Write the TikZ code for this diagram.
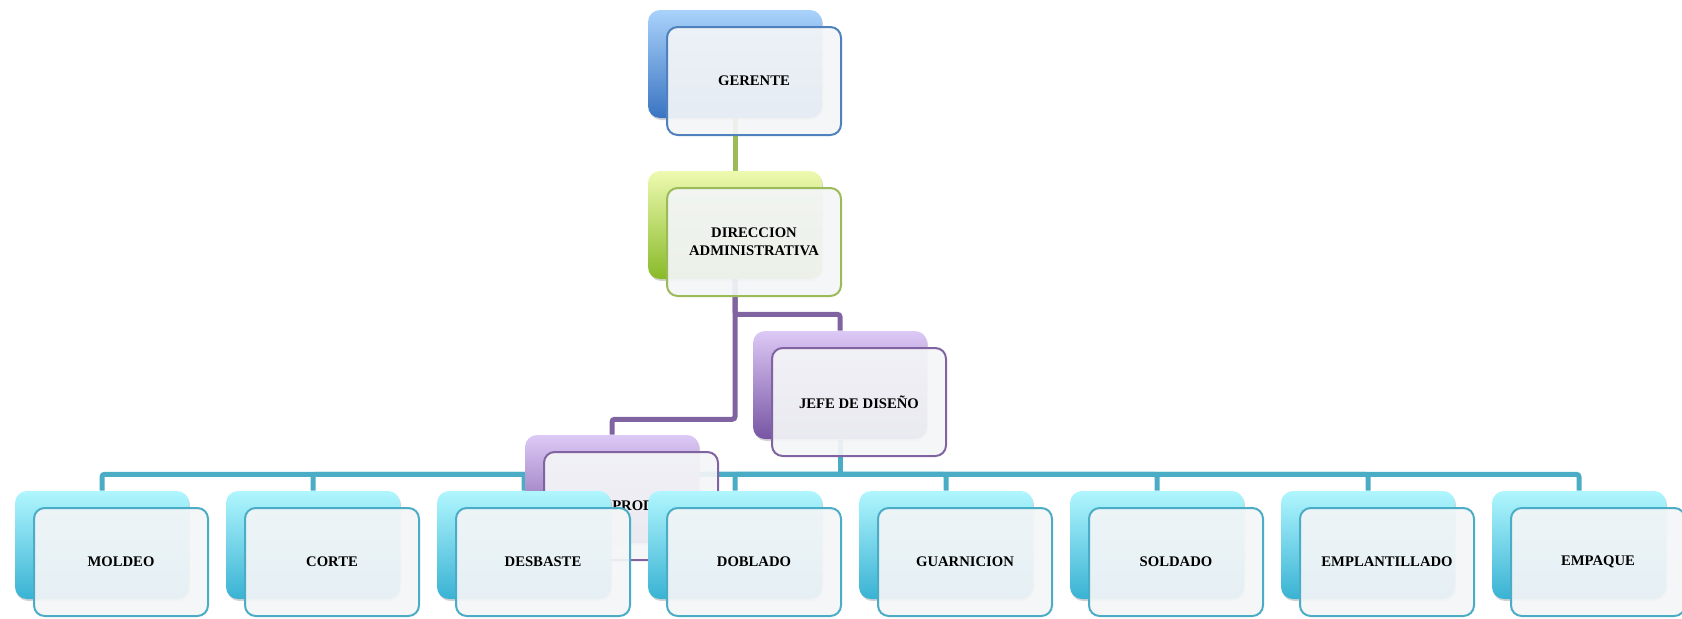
\documentclass[tikz,border=0pt]{standalone}
\usepackage{fontspec}
\setmainfont{Liberation Serif}
\usepackage{tikz}
\newcommand{\boxwidth}{130.5pt}
\newcommand{\boxheight}{81pt}
\newcommand{\boxdx}{14.25pt}
\newcommand{\boxdy}{-12.75pt}
\usetikzlibrary{positioning,shadows}
\pgfdeclarelayer{bg}
\pgfsetlayers{bg,main}
\definecolor{bluetop}{HTML}{A9D2FB}
\definecolor{bluebot}{HTML}{3A74C2}
\definecolor{blueline}{HTML}{4F81BD}
\definecolor{greentop}{HTML}{EEFAB0}
\definecolor{greenbot}{HTML}{88BA28}
\definecolor{greenline}{HTML}{9BBB59}
\definecolor{purptop}{HTML}{DDC9F6}
\definecolor{purpbot}{HTML}{7755A3}
\definecolor{purpline}{HTML}{8064A2}
\definecolor{cyantop}{HTML}{B0F6FE}
\definecolor{cyanbot}{HTML}{39B2D3}
\definecolor{cyanline}{HTML}{4BACC6}
\definecolor{frontfill}{HTML}{F3F5F7}
\tikzset{
  font=\fontsize{11}{13.3}\selectfont\bfseries,
  back/.style={shape=rectangle,rounded corners=9pt,minimum width=\boxwidth,minimum height=\boxheight,inner sep=0,
    drop shadow={shadow xshift=0.8pt,shadow yshift=-1.5pt,opacity=0.35}},
  front/.style={draw,fill=frontfill,fill opacity=0.93,text opacity=1,line width=1.5pt,shape=rectangle,rounded corners=8pt,
    minimum width=\boxwidth,minimum height=\boxheight,inner sep=1mm,align=center,xshift=\boxdx,yshift=\boxdy},
  blueback/.style={back,top color=bluetop,bottom color=bluebot},
  bluefront/.style={front,draw=blueline},
  greenback/.style={back,top color=greentop,bottom color=greenbot},
  greenfront/.style={front,draw=greenline},
  purpback/.style={back,top color=purptop,bottom color=purpbot},
  purpfront/.style={front,draw=purpline},
  cyanback/.style={back,top color=cyantop,bottom color=cyanbot},
  cyanfront/.style={front,draw=cyanline},
  line/.style={draw,line width=3.75pt,rounded corners=2pt}
}

\begin{document}
\begin{tikzpicture}[x=0.75pt,y=-0.75pt]
    \useasboundingbox (0,0) rectangle (1682,618);

    \node (gerente) [blueback] at (735,64) {};
    \node (gerentef) [bluefront] at (gerente) {GERENTE};
    \node (direccion) [greenback] at (735,225) {};
    \node (direccionf) [greenfront] at (direccion) {DIRECCION\\ADMINISTRATIVA};
    \node (jefe) [purpback] at (840,385) {};
    \node (jefef) [purpfront] at (jefe) {JEFE DE DISEÑO};
    \node (prod) [purpback] at (612,489) {};
    \node (prodf) [purpfront] at (prod) {JEFE DE PRODUCCION};

    \node (moldeo) [cyanback] at (102,545) {};
    \node (moldeof) [cyanfront] at (moldeo) {MOLDEO};
    \node (corte) [cyanback] at (313,545) {};
    \node (cortef) [cyanfront] at (corte) {CORTE};
    \node (desbaste) [cyanback] at (524,545) {};
    \node (desbastef) [cyanfront] at (desbaste) {DESBASTE};
    \node (doblado) [cyanback] at (735,545) {};
    \node (dobladof) [cyanfront] at (doblado) {DOBLADO};
    \node (guarnicion) [cyanback] at (946,545) {};
    \node (guarnicionf) [cyanfront] at (guarnicion) {GUARNICION};
    \node (soldado) [cyanback] at (1157,545) {};
    \node (soldadof) [cyanfront] at (soldado) {SOLDADO};
    \node (emplantillado) [cyanback] at (1368,545) {};
    \node (emplantilladof) [cyanfront] at (emplantillado) {EMPLANTILLADO};
    \node (empaque) [cyanback] at (1579,545) {};
    \node (empaquef) [cyanfront] at (empaque) {EMPAQUE};

    \begin{pgfonlayer}{bg}
      \path [line,greenline] (gerente.south) -- (direccion.north);
      \path [line,purpline] (direccion.south) -- ++(0,35) -| (jefe.north);
      \path [line,purpline] (direccion.south) -- ++(0,140) -| (prod.north);
      \path [line,cyanline] (jefe.south) -- ++(0,35) coordinate (hub);
      \path [line,cyanline] (hub) -| (moldeo.north);
      \path [line,cyanline] (hub) -| (corte.north);
      \path [line,cyanline] (hub) -| (desbaste.north);
      \path [line,cyanline] (hub) -| (doblado.north);
      \path [line,cyanline] (hub) -| (guarnicion.north);
      \path [line,cyanline] (hub) -| (soldado.north);
      \path [line,cyanline] (hub) -| (emplantillado.north);
      \path [line,cyanline] (hub) -| (empaque.north);
    \end{pgfonlayer}
\end{tikzpicture}
\end{document}
